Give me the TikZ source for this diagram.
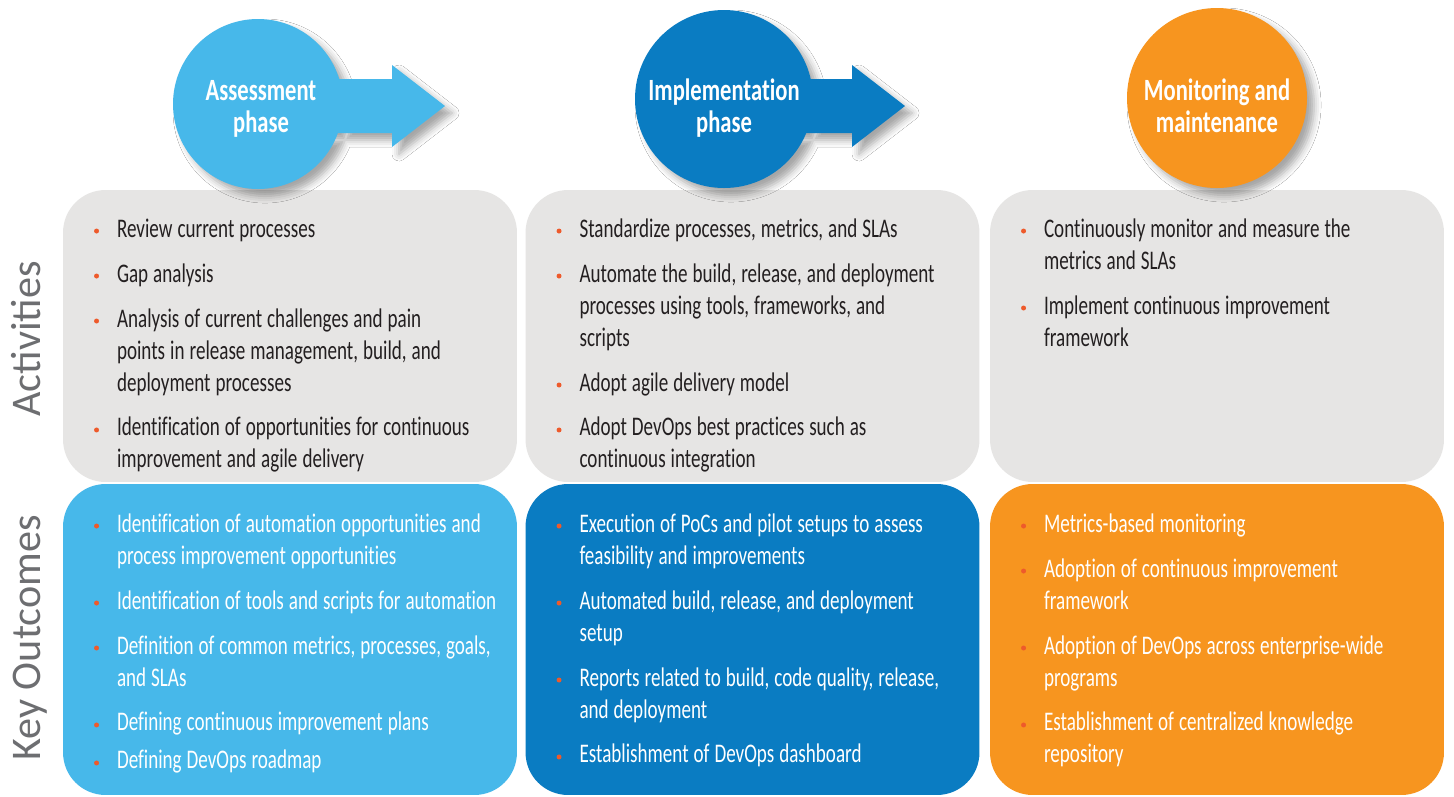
\documentclass[tikz,border=0pt]{standalone}
\usepackage{fontspec}
\setmainfont{Carlito}[FakeStretch=0.71, Ligatures=NoCommon]
\newfontfamily\titlefont{Carlito}[FakeStretch=0.73, Ligatures=NoCommon]
\newfontfamily\sidefont{Carlito}
\usepackage{tikz}
\usetikzlibrary{positioning,shadows.blur}
\definecolor{assesscol}{RGB}{71,184,234}
\definecolor{implcol}{RGB}{10,124,194}
\definecolor{monicol}{RGB}{247,149,31}
\definecolor{panelgray}{RGB}{230,229,228}
\definecolor{bulcol}{RGB}{238,90,43}
\definecolor{sidegray}{RGB}{109,110,113}
\definecolor{bodytext}{RGB}{35,31,32}

% one bullet point, hanging indent, gap after it
\newcommand\bul{\raisebox{0.07cm}{\tikz\fill[bulcol] (0,0) circle (0.05cm);}}
\newcommand\pitem[2][0.26cm]{\par\spaceskip=0.1cm\relax
  \hangindent=0.46cm\hangafter=1\noindent
  \makebox[0.46cm][l]{\bul}\strut#2\par\vspace{#1}}

\tikzset{
  panel/.style={rounded corners=0.85cm, minimum width=9.08cm, inner sep=0pt},
  actpanel/.style={panel, fill=panelgray, minimum height=5.84cm},
  outpanel/.style={panel, minimum height=6.22cm},
  itemtext/.style={anchor=north west, inner sep=0pt, text width=8.6cm, align=left,
    font=\fontsize{15.3pt}{0.64cm}\selectfont},
  phase/.style={anchor=base, inner sep=0pt, align=center, text=white,
    font=\titlefont\bfseries\fontsize{17.6pt}{0.64cm}\selectfont},
  sidelabel/.style={anchor=base, rotate=90, inner sep=0pt, text=sidegray,
    font=\sidefont\fontsize{24pt}{24pt}\selectfont},
  phaseshadow/.style={blur shadow={shadow xshift=4pt, shadow yshift=-4pt,
    shadow blur radius=4pt, shadow opacity=35}},
}

\begin{document}
\begin{tikzpicture}[x=0.02cm,y=-0.02cm]
  \fill[white] (0,0) rectangle (1454,796);
  \useasboundingbox (0,0) rectangle (1454,796);

  % row labels
  \node[sidelabel] (lact) at (40,339) {Activities};
  \node[sidelabel] (lout) at (40,638) {Key Outcomes};

  % panels
  \node[actpanel] (act1) at (290,336) {};
  \node[actpanel] (act2) at (752.5,336) {};
  \node[actpanel] (act3) at (1217,336) {};
  \node[outpanel, fill=assesscol] (out1) at (290,639.5) {};
  \node[outpanel, fill=implcol] (out2) at (752.5,639.5) {};
  \node[outpanel, fill=monicol] (out3) at (1217,639.5) {};

  % phase heads
  \fill[assesscol, phaseshadow] (258,104) circle (85)
    (258,79) -- (392,79) -- (392,65) -- (445,106) -- (392,147) -- (392,133) -- (258,133) -- cycle;
  \fill[implcol, phaseshadow] (724,99) circle (89)
    (724,79) -- (852,79) -- (852,65) -- (905,106) -- (852,147) -- (852,133) -- (724,133) -- cycle;
  \fill[monicol, phaseshadow] (1217,98) circle (90);
  \node[phase] (assess) at (261,132) {Assessment\\phase};
  \node[phase] (impl) at (724,132) {Implementation\\phase};
  \node[phase] (moni) at (1217,132) {Monitoring and\\maintenance};

  % activities
  \node[itemtext, text=bodytext] (acttxt1) at ([shift={(31,15)}]act1.north west) {%
    \pitem{Review current processes}
    \pitem{Gap analysis}
    \pitem{Analysis of current challenges and pain\newline points in release management, build, and\newline deployment processes}
    \pitem{Identification of opportunities for continuous\newline improvement and agile delivery}};
  \node[itemtext, text=bodytext] (acttxt2) at ([shift={(31,15)}]act2.north west) {%
    \pitem{Standardize processes, metrics, and SLAs}
    \pitem{Automate the build, release, and deployment\newline processes using tools, frameworks, and\newline scripts}
    \pitem{Adopt agile delivery model}
    \pitem{Adopt DevOps best practices such as\newline continuous integration}};
  \node[itemtext, text=bodytext] (acttxt3) at ([shift={(31,15)}]act3.north west) {%
    \pitem{Continuously monitor and measure the\newline metrics and SLAs}
    \pitem{Implement continuous improvement\newline framework}};

  % key outcomes
  \node[itemtext, text=white] (outtxt1) at ([shift={(31,16)}]out1.north west) {%
    \pitem{Identification of automation opportunities and\newline process improvement opportunities}
    \pitem{Identification of tools and scripts for automation}
    \pitem{Definition of common metrics, processes, goals,\newline and SLAs}
    \pitem[0.12cm]{Defining continuous improvement plans}
    \pitem{Defining DevOps roadmap}};
  \node[itemtext, text=white] (outtxt2) at ([shift={(31,16)}]out2.north west) {%
    \pitem{Execution of PoCs and pilot setups to assess\newline feasibility and improvements}
    \pitem{Automated build, release, and deployment\newline setup}
    \pitem{Reports related to build, code quality, release,\newline and deployment}
    \pitem{Establishment of DevOps dashboard}};
  \node[itemtext, text=white] (outtxt3) at ([shift={(31,16)}]out3.north west) {%
    \pitem{Metrics-based monitoring}
    \pitem{Adoption of continuous improvement\newline framework}
    \pitem{Adoption of DevOps across enterprise-wide\newline programs}
    \pitem{Establishment of centralized knowledge\newline repository}};
\end{tikzpicture}
\end{document}
